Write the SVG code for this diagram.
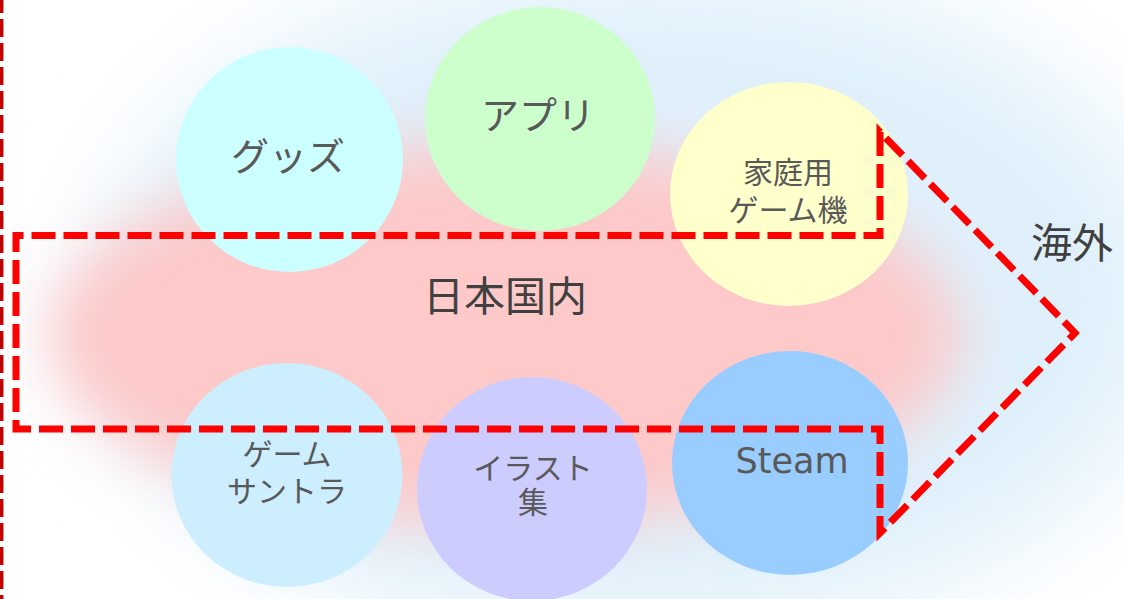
<svg xmlns="http://www.w3.org/2000/svg" width="1124" height="599" viewBox="0 0 1124 599">
<style>
  .lbl { font-family: "Noto Sans CJK JP", "Noto Sans", sans-serif; fill: #595959; text-anchor: middle; }
  .big { font-family: "Noto Sans CJK JP", "Noto Sans", sans-serif; fill: #404040; text-anchor: middle; font-size: 41px; }
  .lat { font-family: "DejaVu Sans", "Noto Sans CJK JP", sans-serif; fill: #595959; text-anchor: middle; }
  .dash { fill: none; stroke: #ff0000; stroke-width: 7; stroke-dasharray: 24 8; stroke-linejoin: miter; }
</style>
<defs>
  <filter id="blurBlue" filterUnits="userSpaceOnUse" x="-300" y="-300" width="1800" height="1200">
    <feGaussianBlur stdDeviation="55"/>
  </filter>
  <filter id="blurPink" filterUnits="userSpaceOnUse" x="-300" y="-300" width="1800" height="1200">
    <feGaussianBlur stdDeviation="30"/>
  </filter>
</defs>
<rect x="0" y="0" width="1124" height="599" fill="#ffffff"/>
<g id="background">
  <ellipse cx="640" cy="300" rx="540" ry="335" fill="#dff0fb" filter="url(#blurBlue)"/>
  <ellipse cx="505" cy="335" rx="455" ry="190" fill="#fdc9c9" filter="url(#blurPink)"/>
</g>
<g id="node-goods">
  <ellipse cx="289.5" cy="159.5" rx="113.5" ry="112.5" fill="#ccffff"/>
  <text class="lbl" x="288" y="170" font-size="38">グッズ</text>
</g>
<g id="node-app">
  <ellipse cx="540" cy="119" rx="115" ry="112" fill="#ccffcc"/>
  <text class="lbl" x="538" y="129" font-size="38">アプリ</text>
</g>
<g id="node-console">
  <ellipse cx="789" cy="194" rx="119" ry="112" fill="#ffffcc"/>
  <text class="lbl" x="788" y="183" font-size="30">家庭用</text>
  <text class="lbl" x="788" y="221" font-size="30">ゲーム機</text>
</g>
<g id="node-soundtrack">
  <ellipse cx="287" cy="475" rx="115.5" ry="112" fill="#cceeff"/>
  <text class="lbl" x="287" y="465" font-size="30">ゲーム</text>
  <text class="lbl" x="287" y="502" font-size="30">サントラ</text>
</g>
<g id="node-artbook">
  <ellipse cx="532" cy="489" rx="115" ry="112" fill="#ccccff"/>
  <text class="lbl" x="533" y="479" font-size="30">イラスト</text>
  <text class="lbl" x="533" y="513" font-size="30">集</text>
</g>
<g id="node-steam">
  <ellipse cx="790" cy="463" rx="118" ry="112" fill="#99ccff"/>
  <text class="lat" x="792" y="473" font-size="35">Steam</text>
</g>
<g id="connectors">
  <line x1="1.7" y1="-5" x2="1.7" y2="605" stroke="#c00000" stroke-width="3.5" stroke-dasharray="18 6"/>
  <path class="dash" d="M 880,132 L 880,235.5 L 16,235.5 L 16,429 L 880,429 L 880,533 L 1075,333 Z"/>
</g>
<g id="labels">
  <text class="big" x="505" y="311">日本国内</text>
  <text class="big" x="1072" y="258">海外</text>
</g>
</svg>
